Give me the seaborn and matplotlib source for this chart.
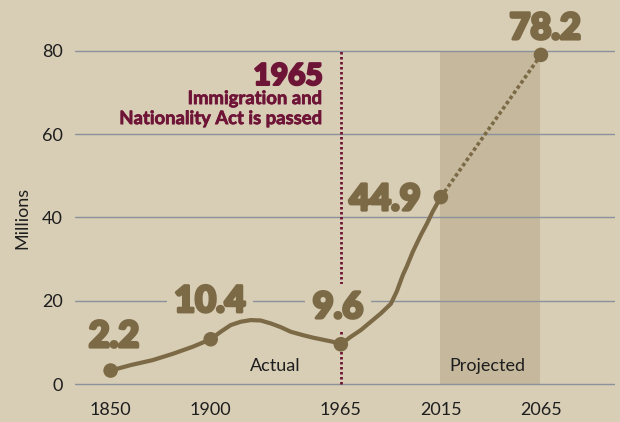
import matplotlib
matplotlib.use("Agg")
import matplotlib.pyplot as plt
import matplotlib.patheffects as pe
import seaborn as sns

# ---- data ----
actual_years = [1850, 1860, 1871, 1881, 1891, 1900, 1905, 1910, 1915, 1920,
                1925, 1930, 1935, 1940, 1946, 1951, 1956, 1961, 1965, 1970,
                1975, 1980, 1985, 1990, 1993, 1996, 1998, 2001, 2005, 2008,
                2011, 2015]
actual_vals = [3.3, 4.6, 5.8, 7.3, 9.0, 10.8, 12.6, 14.2, 15.0, 15.4,
               15.3, 14.6, 13.7, 12.6, 11.8, 11.2, 10.7, 10.2, 9.6, 11.4,
               13.0, 15.0, 17.0, 19.3, 22.3, 26.2, 28.3, 31.8, 35.8, 38.5,
               41.5, 44.9]
proj_years = [2015, 2065]
proj_vals = [44.9, 79.0]
key_years = [1850, 1900, 1965, 2015, 2065]
key_vals = [3.3, 10.8, 9.6, 44.9, 79.0]
key_labels = ["2.2", "10.4", "9.6", "44.9", "78.2"]
x_ticks = [1850, 1900, 1965, 2015, 2065]
y_ticks = [0, 20, 40, 60, 80]
proj_span = [2014.6, 2064.5]

# ---- style ----
bg = "#d8cdb5"
shade = "#c5b89c"
brown = "#7b6a45"
maroon = "#6e1437"
gridc = "#8c929c"
textc = "#1e1e1e"

sns.set_theme(style="white")
plt.rcParams["font.family"] = ["Lato", "DejaVu Sans"]

fig = plt.figure(figsize=(6.2, 4.22), dpi=100, facecolor=bg)
pxu = 4.17  # pixels per million
ybot_px = 384.3 + 2 * pxu
ax = fig.add_axes([75 / 620, (422 - ybot_px) / 422, 540 / 620, 92 * pxu / 422])
ax.set_facecolor(bg)
ax.set_xlim(1832.2, 2102.0)
ax.set_ylim(-2, 90)

# projected shading
ax.fill_between(proj_span, 0, 80, color=shade, lw=0, zorder=0.2)

# grid
ax.set_axisbelow(True)
ax.yaxis.grid(True, color=gridc, lw=1.0)
ax.xaxis.grid(False)
for s in ax.spines.values():
    s.set_visible(False)

# 1965 vertical dotted line
ax.vlines(1965, 0, 80, colors=maroon, lw=2.0, linestyles=(0, (0.9, 0.9)), zorder=2)

# lines
sns.lineplot(x=actual_years, y=actual_vals, ax=ax, color=brown, lw=3.0,
             estimator=None, zorder=3)
ax.get_lines()[-1].set_solid_capstyle("round")
ax.get_lines()[-1].set_solid_joinstyle("round")
sns.lineplot(x=proj_years, y=proj_vals, ax=ax, color=brown, lw=2.6,
             estimator=None, zorder=3)
ax.get_lines()[-1].set_linestyle((0, (1, 0.75)))
sns.scatterplot(x=key_years, y=key_vals, ax=ax, color=brown, s=110,
                edgecolor="none", zorder=4)

# value labels
heavy = [pe.withStroke(linewidth=2.2, foreground=brown)]
offsets = [(2.4, 16.9), (-0.5, 19.7), (-2, 18.9), (-40.2, -9.4), (3, 11.4)]
boxed = [False, True, True, False, False]
for xv, yv, lab, off, bx in zip(key_years, key_vals, key_labels, offsets, boxed):
    kw = {}
    if bx:
        kw["bbox"] = dict(boxstyle="square,pad=0.2", fc=bg, ec="none")
    ax.annotate(lab, xy=(xv, yv), xytext=off, textcoords="offset points",
                ha="center", va="baseline", fontsize=26, fontweight="black",
                color=brown, zorder=2.5, path_effects=heavy, **kw)

# 1965 annotation
ax.text(1955.9, 71.8, "1965", ha="right", va="baseline", fontsize=21.5,
        fontweight="black", color=maroon,
        path_effects=[pe.withStroke(linewidth=1.6, foreground=maroon)])
ax.text(1955.9, 67.2, "Immigration and", ha="right", va="baseline",
        fontsize=13.3, fontweight="bold", color=maroon,
        path_effects=[pe.withStroke(linewidth=0.5, foreground=maroon)])
ax.text(1955.9, 62.4, "Nationality Act is passed", ha="right", va="baseline",
        fontsize=13.3, fontweight="bold", color=maroon,
        path_effects=[pe.withStroke(linewidth=0.5, foreground=maroon)])

ax.text(1932.1, 3.3, "Actual", ha="center", va="baseline", fontsize=13, color=textc)
ax.text(2038.3, 3.2, "Projected", ha="center", va="baseline", fontsize=13, color=textc)

# ticks
ax.set_xticks(x_ticks)
ax.set_xticklabels([str(t) for t in x_ticks])
ax.set_yticks(y_ticks)
ax.set_yticklabels([str(t) for t in y_ticks])
ax.tick_params(axis="both", length=0, labelsize=13, labelcolor=textc)
ax.tick_params(axis="x", pad=7)
ax.tick_params(axis="y", pad=9)
ax.set_xlabel("")
ax.set_ylabel("")
fig.text(22 / 620, 1 - 217.5 / 422, "Millions", rotation=90, ha="center",
         va="center", fontsize=13, color=textc)

fig.savefig("out.png", dpi=100, facecolor=bg)
